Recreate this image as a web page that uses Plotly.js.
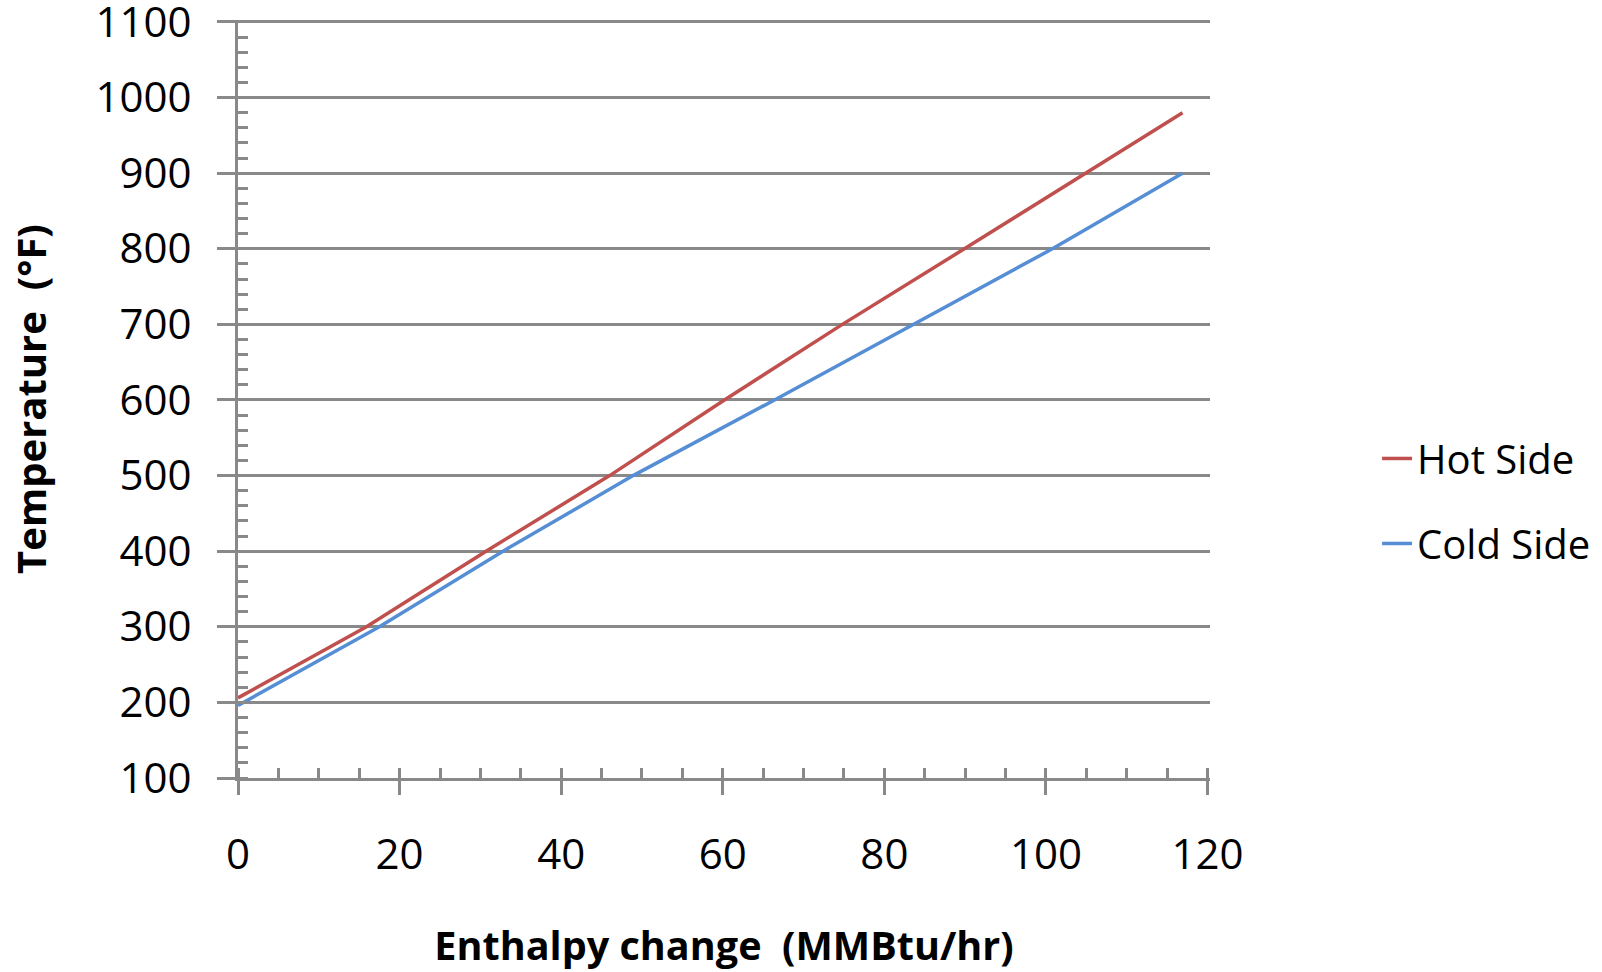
<!DOCTYPE html>
<html>
<head>
<meta charset="utf-8">
<script src="https://cdn.plot.ly/plotly-3.0.1.min.js"></script>
<style>html,body{margin:0;padding:0;background:#fff;}#chart{width:1602px;height:972px;}</style>
</head>
<body>
<div id="chart"></div>
<script>
// Enthalpy change (MMBtu/hr) and temperature (°F)
const hotEnthalpy  = [0, 15.9, 30.7, 46.0, 60.2, 74.8, 89.9, 104.9, 116.9];
const hotTemp      = [206, 300, 400, 500, 600, 700, 800, 900, 980];
const coldEnthalpy = [0, 17.5, 32.8, 48.9, 66.4, 83.7, 100.8, 116.9];
const coldTemp     = [196, 300, 400, 500, 600, 700, 800, 900];
const seriesNames  = ["Hot Side", "Cold Side"];
const xTickVals = [0, 20, 40, 60, 80, 100, 120];
const yTickVals = [100, 200, 300, 400, 500, 600, 700, 800, 900, 1000, 1100];
const xTitle = "Enthalpy change  (MMBtu/hr)";
const yTitle = "Temperature  (°F)";

const FONT = "Open Sans, Lato, Liberation Sans, sans-serif";
const GRID = "#898989";

const traces = [
  {x: hotEnthalpy, y: hotTemp, name: seriesNames[0], type: "scatter", mode: "lines",
   line: {color: "#C0504D", width: 3.5}, legendgroup: "a"},
  {x: coldEnthalpy, y: coldTemp, name: seriesNames[1], type: "scatter", mode: "lines",
   line: {color: "#558ED5", width: 3.5}, legendgroup: "b"}
];

const layout = {
  width: 1602, height: 972,
  margin: {l: 238, r: 392, t: 20, b: 194},
  paper_bgcolor: "#fff", plot_bgcolor: "#fff",
  font: {family: FONT, size: 42, color: "#000"},
  showlegend: true,
  legend: {xref: "container", yref: "container",
           x: 0.8596, xanchor: "left", y: 0.4846, yanchor: "middle",
           traceorder: "grouped", tracegroupgap: 30,
           font: {family: FONT, size: 40, color: "#000"}},
  xaxis: {
    range: [0, 120.3], tickvals: xTickVals, ticktext: xTickVals.map(String),
    showgrid: false, zeroline: false,
    showline: true, linecolor: GRID, linewidth: 3,
    ticks: "outside", ticklen: 14, tickwidth: 3, tickcolor: GRID,
    ticklabelstandoff: 24, ticklabeloverflow: "allow",
    minor: {dtick: 5, tick0: 0, ticks: "inside", ticklen: 10, tickwidth: 3, tickcolor: GRID, showgrid: false},
    tickfont: {family: FONT, size: 42},
    title: {text: xTitle, font: {family: FONT, size: 39.6, weight: "bold"}, standoff: 54}
  },
  xaxis2: {
    overlaying: "x", anchor: "y", side: "bottom",
    range: [0, 120.3], tickvals: xTickVals,
    showgrid: false, zeroline: false, showline: false,
    ticks: "inside", ticklen: 10, tickwidth: 3, tickcolor: GRID,
    showticklabels: false
  },
  yaxis: {
    range: [100, 1102.6], tickvals: yTickVals, ticktext: yTickVals.map(String),
    showgrid: true, gridcolor: GRID, gridwidth: 3, zeroline: false,
    showline: true, linecolor: GRID, linewidth: 3,
    ticks: "outside", ticklen: 18, tickwidth: 3, tickcolor: GRID,
    ticklabelstandoff: 17, ticklabeloverflow: "allow",
    minor: {dtick: 20, tick0: 100, ticks: "inside", ticklen: 10, tickwidth: 3, tickcolor: GRID, showgrid: false},
    tickfont: {family: FONT, size: 42},
    title: {text: yTitle, font: {family: FONT, size: 40, weight: "bold"}, standoff: 37}
  }
};

Plotly.newPlot("chart", traces, layout, {displayModeBar: false, staticPlot: true});
</script>
</body>
</html>
